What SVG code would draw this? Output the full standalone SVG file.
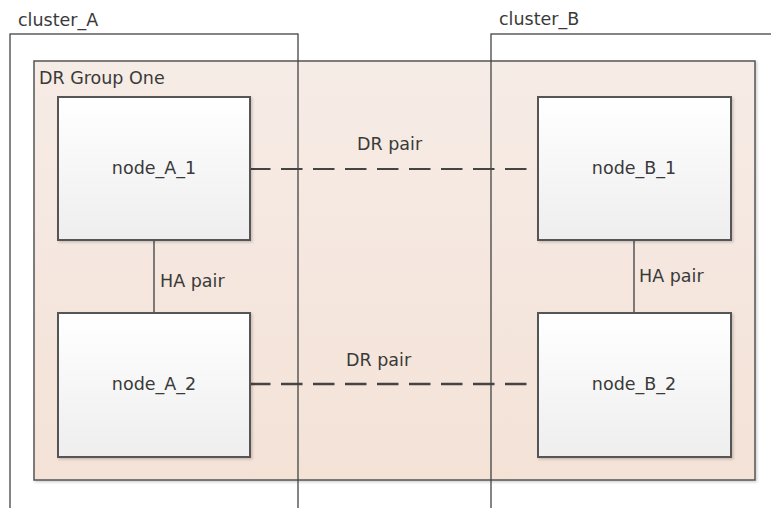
<svg xmlns="http://www.w3.org/2000/svg" width="771" height="508" viewBox="0 0 771 508">
<defs>
<linearGradient id="grpFill" x1="0" y1="0" x2="0" y2="1">
<stop offset="0" stop-color="#f6ece6"/>
<stop offset="1" stop-color="#f4e2d7"/>
</linearGradient>
<linearGradient id="nodeFill" x1="0" y1="0" x2="0" y2="1">
<stop offset="0" stop-color="#ffffff"/>
<stop offset="1" stop-color="#eeeeee"/>
</linearGradient>
<filter id="shadow" x="-5%" y="-5%" width="110%" height="110%">
<feDropShadow dx="1.5" dy="1.5" stdDeviation="1" flood-color="#000" flood-opacity="0.18"/>
</filter>
</defs>
<style>
text{font-family:"DejaVu Sans","Open Sans","Liberation Sans",sans-serif;font-size:17.5px;fill:#3a3a3a}
.cluster{fill:none;stroke:#444;stroke-width:1.3}
.group{fill:url(#grpFill);stroke:#555;stroke-width:1.5}
.node{fill:url(#nodeFill);stroke:#555;stroke-width:2;filter:url(#shadow)}
.ha{stroke:#555;stroke-width:1.5;fill:none}
.dr{stroke:#444;stroke-width:2;fill:none;stroke-dasharray:21.5 10.5}
.dr2{stroke-width:2.6}
.mid{text-anchor:middle}
</style>
<rect width="771" height="508" fill="#ffffff"/>
<g id="dr_group_one">
<rect class="group" x="34" y="61" width="721" height="419" filter="url(#shadow)"/>
<text x="39" y="84">DR Group One</text>
</g>
<g id="cluster_A">
<rect class="cluster" x="10" y="34" width="288" height="480"/>
<text x="18" y="26">cluster_A</text>
</g>
<g id="cluster_B">
<rect class="cluster" x="491" y="34" width="290" height="480"/>
<text x="499" y="25">cluster_B</text>
</g>
<g id="connectors">
<line class="ha" x1="154" y1="240" x2="154" y2="313"/>
<line class="ha" x1="634" y1="240" x2="634" y2="313"/>
<line class="dr" x1="249" y1="169" x2="529" y2="169"/>
<line class="dr dr2" x1="249" y1="384" x2="529" y2="384"/>
<text x="160" y="287">HA pair</text>
<text x="639" y="282">HA pair</text>
<text x="357" y="150">DR pair</text>
<text x="346" y="366">DR pair</text>
</g>
<g id="node_A_1">
<rect class="node" x="58" y="97" width="192" height="143"/>
<text x="154" y="174" class="mid">node_A_1</text>
</g>
<g id="node_A_2">
<rect class="node" x="58" y="313" width="192" height="144"/>
<text x="154" y="390" class="mid">node_A_2</text>
</g>
<g id="node_B_1">
<rect class="node" x="538" y="97" width="193" height="143"/>
<text x="634" y="174" class="mid">node_B_1</text>
</g>
<g id="node_B_2">
<rect class="node" x="538" y="313" width="193" height="144"/>
<text x="634" y="390" class="mid">node_B_2</text>
</g>
</svg>
